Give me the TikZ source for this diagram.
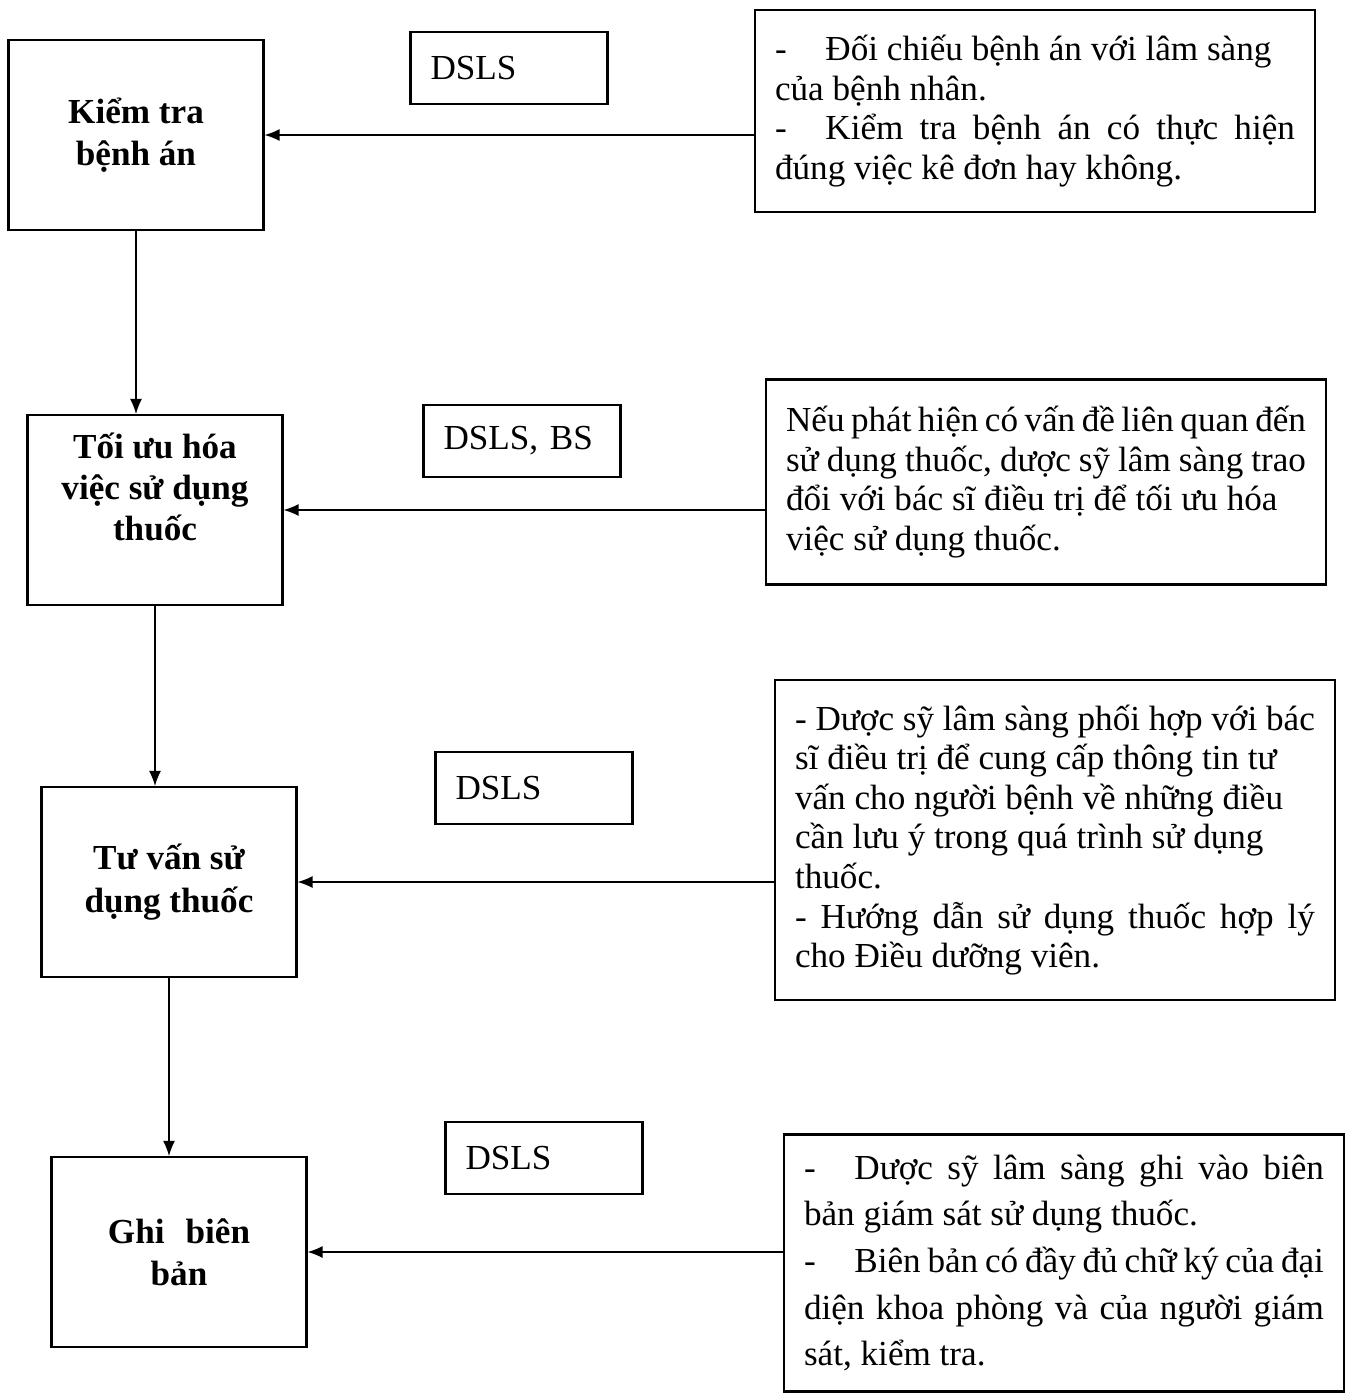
\documentclass[tikz,border=0pt]{standalone}
\usepackage{fontspec}
\setmainfont{Liberation Serif}
\usetikzlibrary{arrows.meta}

\begin{document}
\begin{tikzpicture}[x=0.02cm, y=-0.02cm,
    stepbox/.style={draw, line width=1.2pt, minimum width=5.1cm, minimum height=3.8cm,
        align=center, font=\fontsize{20}{24}\selectfont\bfseries},
    steptext/.style={align=center, font=\fontsize{20}{23.5}\selectfont\bfseries},
    rolebox/.style={draw, line width=1.2pt, text width=3.14cm, inner xsep=0.4cm,
        minimum height=1.44cm, align=left, font=\fontsize{20}{24}\selectfont},
    notebox/.style={draw, line width=1.2pt, text width=10.4cm, inner xsep=0.4cm,
        align=justify, font=\fontsize{20}{22.5}\selectfont},
    flow/.style={-{Latex[length=3mm,width=2.4mm]}, line width=0.8pt}]
    \useasboundingbox (0,0) rectangle (1350,1394);

    % Steps (left column)
    \node[stepbox] (kiemtra) at (136,135) {Kiểm tra\\bệnh án};
    \node[stepbox] (toiuu) at (155,510) {};
    \node[steptext] (toiuutxt) at (155,487) {Tối ưu hóa\\việc sử dụng\\thuốc};
    \node[stepbox] (tuvan) at (169,882) {Tư vấn sử\\dụng thuốc};
    \node[stepbox] (ghibb) at (179,1252) {Ghi\hspace{0.6em}biên\\bản};

    % Who does it
    \node[rolebox] (ai1) at (509,68) {DSLS};
    \node[rolebox] (ai2) at (522,441) {DSLS, BS};
    \node[rolebox] (ai3) at (534,788) {DSLS};
    \node[rolebox] (ai4) at (544,1158) {DSLS};

    % Descriptions (right column)
    \node[notebox, minimum height=4.04cm] (mota1) at (1035,111)
        {-\hspace{1.1em}Đối chiếu bệnh án với lâm sàng\\
         của bệnh nhân.\\
         -\hspace{1.1em}Kiểm tra bệnh án có thực hiện\linebreak
         đúng việc kê đơn hay không.};
    \node[notebox, minimum height=4.1cm] (mota2) at (1046,482)
        {Nếu phát hiện có vấn đề liên quan đến\\
         sử dụng thuốc, dược sỹ lâm sàng trao\\
         đổi với bác sĩ điều trị để tối ưu hóa\\
         việc sử dụng thuốc.};
    \node[notebox, minimum height=6.4cm] (mota3) at (1055,840)
        {- Dược sỹ lâm sàng phối hợp với bác\\
         sĩ điều trị để cung cấp thông tin tư\\
         vấn cho người bệnh về những điều\\
         cần lưu ý trong quá trình sử dụng\\
         thuốc.\\
         - Hướng dẫn sử dụng thuốc hợp lý\linebreak
         cho Điều dưỡng viên.};
    \node[notebox, minimum height=5.14cm, font=\fontsize{20}{26.5}\selectfont] (mota4) at (1064,1263)
        {-\hspace{1.1em}Dược sỹ lâm sàng ghi vào biên\linebreak
         bản giám sát sử dụng thuốc.\\
         -\hspace{1.1em}Biên bản có đầy đủ chữ ký của đại\linebreak
         diện khoa phòng và của người giám\linebreak
         sát, kiểm tra.};

    % Arrows into the steps
    \draw[flow] (mota1.west |- kiemtra.east) -- (kiemtra.east);
    \draw[flow] (mota2.west |- toiuu.east) -- (toiuu.east);
    \draw[flow] (mota3.west |- tuvan.east) -- (tuvan.east);
    \draw[flow] (mota4.west |- ghibb.east) -- (ghibb.east);

    % Step to step
    \draw[flow] (kiemtra.south) -- (kiemtra.south |- toiuu.north);
    \draw[flow] (toiuu.south) -- (toiuu.south |- tuvan.north);
    \draw[flow] (tuvan.south) -- (tuvan.south |- ghibb.north);
\end{tikzpicture}
\end{document}
